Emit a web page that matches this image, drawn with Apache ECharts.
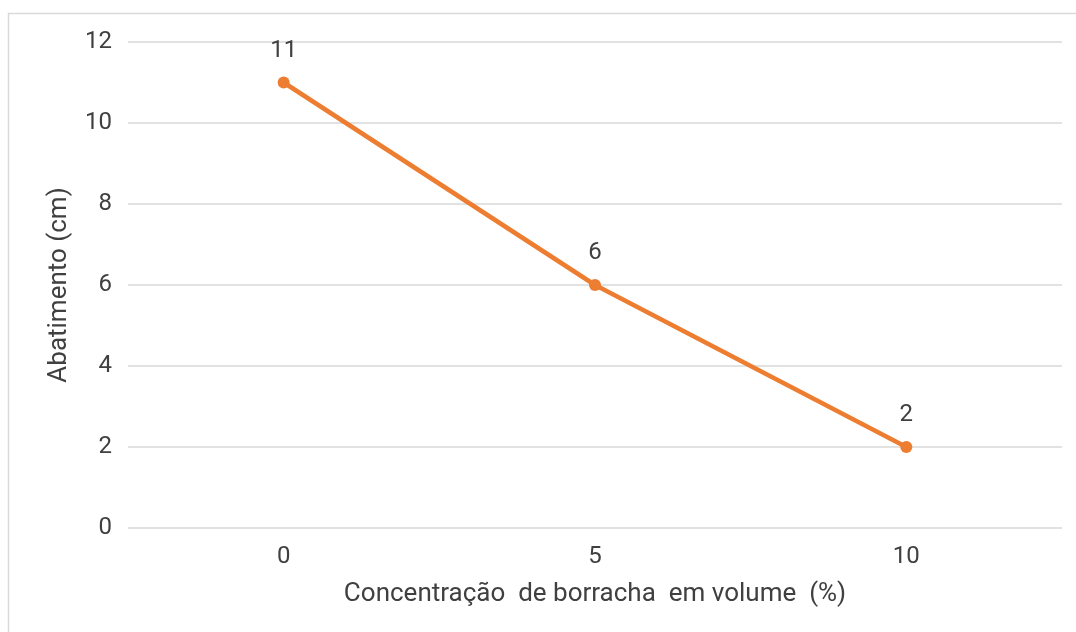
<!DOCTYPE html>
<html>
<head>
<meta charset="utf-8">
<script src="https://cdn.jsdelivr.net/npm/echarts@6/dist/echarts.min.js"></script>
<style>
  html, body { margin: 0; padding: 0; background: #fff; }
  #chart { width: 1076px; height: 632px; }
</style>
</head>
<body>
<div id="chart"></div>
<script>
  // dados do gráfico
  var categorias = ['0', '5', '10'];
  var abatimento = [11, 6, 2];

  var myChart = echarts.init(document.getElementById('chart'));
  var textColor = '#404040';
  var fonte = 'Roboto';

  var option = {
    backgroundColor: '#fff',
    animation: false,
    graphic: [{
      type: 'rect',
      silent: true,
      shape: { x: 8.5, y: 13.5, width: 1200, height: 800 },
      style: { fill: 'none', stroke: '#d9d9d9', lineWidth: 1.5 }
    }],
    grid: { left: 128, right: 14, top: 42, bottom: 104 },
    xAxis: {
      type: 'category',
      data: categorias,
      boundaryGap: true,
      name: 'Concentração  de borracha  em volume  (%)',
      nameLocation: 'middle',
      nameGap: 53,
      nameTextStyle: { color: textColor, fontSize: 26, fontFamily: fonte },
      axisLine: { show: false },
      axisTick: { show: false },
      axisLabel: { color: textColor, fontSize: 24, margin: 17, fontFamily: fonte }
    },
    yAxis: {
      type: 'value',
      min: 0,
      max: 12,
      interval: 2,
      name: 'Abatimento (cm)',
      nameLocation: 'middle',
      nameGap: 56,
      nameTextStyle: { color: textColor, fontSize: 26, fontFamily: fonte },
      axisLine: { show: false },
      axisTick: { show: false },
      axisLabel: { color: textColor, fontSize: 24, margin: 16, fontFamily: fonte },
      splitLine: { lineStyle: { color: '#d9d9d9', width: 1.5 } }
    },
    series: [{
      type: 'line',
      data: abatimento,
      symbol: 'circle',
      symbolSize: 12,
      lineStyle: { color: '#ED7D31', width: 4.5 },
      itemStyle: { color: '#ED7D31' },
      label: {
        show: true,
        position: 'top',
        distance: 14,
        color: textColor,
        fontSize: 24,
        fontFamily: fonte
      }
    }]
  };

  myChart.setOption(option);
</script>
</body>
</html>
